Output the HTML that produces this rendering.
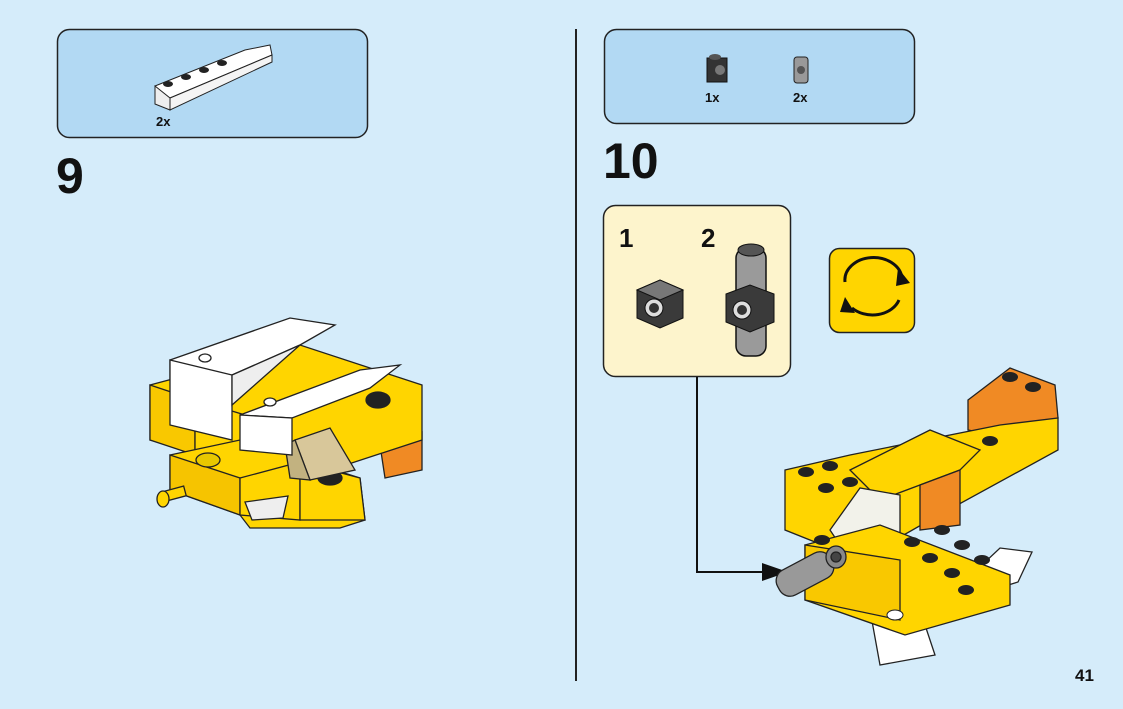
<!DOCTYPE html>
<html><head><style>
html,body{margin:0;padding:0}
body{width:1123px;height:709px;background:#d5ecfa;overflow:hidden;position:relative;font-family:"Liberation Sans",Arial,sans-serif}
svg{position:absolute;left:0;top:0}
</style></head><body>
<svg width="1123" height="709" viewBox="0 0 1123 709" xmlns="http://www.w3.org/2000/svg" font-family="Liberation Sans, Arial, sans-serif">
<rect width="1123" height="709" fill="#d5ecfa"/>
<rect x="57.5" y="29.5" width="310" height="108" rx="12" fill="#b2d9f3" stroke="#222" stroke-width="1.5"/>
<rect x="604.5" y="29.5" width="310" height="94" rx="12" fill="#b2d9f3" stroke="#222" stroke-width="1.5"/>
<polygon points="155,86 245,50 270,45 272,55 170,98 155,98" fill="#fff" stroke="#222"/>
<polygon points="155,86 170,98 170,110 155,104" fill="#eee" stroke="#222"/>
<polygon points="170,98 272,55 272,62 170,110" fill="#f4f4f4" stroke="#222"/>
<g fill="#222"><ellipse cx="168" cy="84" rx="5" ry="3"/><ellipse cx="186" cy="77" rx="5" ry="3"/><ellipse cx="204" cy="70" rx="5" ry="3"/><ellipse cx="222" cy="63" rx="5" ry="3"/></g>
<text x="156" y="126" font-size="13" font-weight="bold" fill="#111">2x</text>
<rect x="707" y="58" width="20" height="24" fill="#333" stroke="#111"/><circle cx="720" cy="70" r="5" fill="#777"/><ellipse cx="715" cy="57" rx="6" ry="3" fill="#555"/>
<text x="705" y="102" font-size="13" font-weight="bold" fill="#111">1x</text>
<rect x="794" y="57" width="14" height="26" rx="3" fill="#999" stroke="#222"/><circle cx="801" cy="70" r="4" fill="#555"/>
<text x="793" y="102" font-size="13" font-weight="bold" fill="#111">2x</text>
<text x="56" y="193" font-size="50" font-weight="bold" fill="#111">9</text>
<text x="603" y="178" font-size="50" font-weight="bold" fill="#111">10</text>
<line x1="576" y1="29" x2="576" y2="681" stroke="#222" stroke-width="2"/>
<rect x="603.5" y="205.5" width="187" height="171" rx="12" fill="#fdf4cc" stroke="#222" stroke-width="1.5"/>
<text x="619" y="247" font-size="26" font-weight="bold" fill="#111">1</text>
<text x="701" y="247" font-size="26" font-weight="bold" fill="#111">2</text>
<polygon points="637,290 660,280 683,290 683,318 660,328 637,318" fill="#3a3a3a" stroke="#111"/>
<polygon points="637,290 660,280 683,290 660,300" fill="#777" stroke="#111"/>
<circle cx="654" cy="308" r="9" fill="#ddd" stroke="#111"/><circle cx="654" cy="308" r="5" fill="#333"/>
<rect x="736" y="248" width="30" height="108" rx="10" fill="#9a9a9a" stroke="#111" stroke-width="1.5"/>
<ellipse cx="751" cy="250" rx="13" ry="6" fill="#555" stroke="#111"/>
<polygon points="726,294 750,285 774,294 774,322 750,332 726,322" fill="#3a3a3a" stroke="#111"/>
<circle cx="742" cy="310" r="9" fill="#ddd" stroke="#111"/><circle cx="742" cy="310" r="5" fill="#333"/>
<rect x="829.5" y="248.5" width="85" height="84" rx="10" fill="#ffd500" stroke="#222" stroke-width="1.5"/>
<path d="M845 282 A28 22 0 0 1 902 278" fill="none" stroke="#111" stroke-width="3"/>
<polygon points="898,268 910,283 896,286" fill="#111"/>
<path d="M899 300 A28 22 0 0 1 852 308" fill="none" stroke="#111" stroke-width="3"/>
<polygon points="845,297 855,313 840,312" fill="#111"/>
<polyline points="697,377 697,572 770,572" fill="none" stroke="#111" stroke-width="2"/>
<polygon points="762,563 788,572 762,581" fill="#111"/>
<!-- model 9 -->
<g stroke="#222" stroke-width="1.3">
<polygon points="380,445 422,432 422,470 385,478" fill="#f08a24"/>
<polygon points="150,385 300,345 422,385 422,440 300,480 150,440" fill="#ffd500"/>
<polygon points="150,385 195,400 195,455 150,440" fill="#f9c800"/>
<polygon points="195,400 262,420 262,465 195,455" fill="#ffd500"/>
<polygon points="170,455 240,440 360,478 365,520 340,528 250,528 240,515 170,490" fill="#ffd500"/>
<polygon points="170,455 240,478 240,515 170,490" fill="#f6c400"/>
<polygon points="240,478 300,462 300,520 240,515" fill="#ffd500"/>
<polygon points="300,462 360,478 365,520 300,520" fill="#ffd500"/>
<polygon points="245,502 288,496 283,518 252,520" fill="#eee"/>
<ellipse cx="378" cy="400" rx="12" ry="8" fill="#222"/>
<ellipse cx="208" cy="460" rx="12" ry="7" fill="#e8c800"/>
<ellipse cx="330" cy="478" rx="12" ry="7" fill="#222"/>
<polygon points="295,440 330,428 355,470 310,480" fill="#d8c79a"/>
<polygon points="285,445 295,440 310,480 290,478" fill="#c2b280"/>
<rect x="162" y="490" width="24" height="10" fill="#ffd500" transform="rotate(-15 170 497)"/>
<ellipse cx="163" cy="499" rx="6" ry="8" fill="#ffd500"/>
<polygon points="170,360 290,318 335,325 300,345 232,375 170,380" fill="#fff"/>
<polygon points="170,360 232,375 232,440 170,425" fill="#fff"/>
<polygon points="232,375 300,345 232,405" fill="#eee"/>
<polygon points="240,415 360,370 400,365 370,388 292,418 240,415" fill="#fff"/>
<polygon points="240,415 292,418 292,455 240,450" fill="#fff"/>
<ellipse cx="205" cy="358" rx="6" ry="4" fill="#fff"/>
<ellipse cx="270" cy="402" rx="6" ry="4" fill="#fff"/>
</g>
<!-- model 10 -->
<g stroke="#222" stroke-width="1.3">
<polygon points="968,400 1010,368 1055,385 1058,418 1020,440 968,430" fill="#f08a24"/>
<polygon points="785,470 850,455 1000,425 1058,418 1058,450 930,520 860,560 785,530" fill="#ffd500"/>
<polygon points="850,470 930,430 980,450 960,470 880,500" fill="#ffd500"/>
<polygon points="920,485 960,470 960,525 920,530" fill="#f08a24"/>
<polygon points="830,530 860,488 900,495 900,540 840,545" fill="#f2f2ea"/>
<polygon points="950,595 1000,548 1032,552 1018,582 960,600" fill="#fff"/>
<polygon points="870,610 920,610 935,655 880,665" fill="#fff"/>
<polygon points="805,545 880,525 1010,575 1010,605 905,635 805,600" fill="#ffd500"/>
<polygon points="805,545 900,560 900,620 805,600" fill="#f9c800"/>
<rect x="775" y="560" width="60" height="28" rx="12" fill="#999" transform="rotate(-28 805 574)"/>
<ellipse cx="836" cy="557" rx="10" ry="11" fill="#888"/><circle cx="836" cy="557" r="5" fill="#444"/>
</g>
<g fill="#222">
<ellipse cx="806" cy="472" rx="8" ry="5"/><ellipse cx="830" cy="466" rx="8" ry="5"/><ellipse cx="826" cy="488" rx="8" ry="5"/><ellipse cx="850" cy="482" rx="8" ry="5"/>
<ellipse cx="1010" cy="377" rx="8" ry="5"/><ellipse cx="1033" cy="387" rx="8" ry="5"/><ellipse cx="990" cy="441" rx="8" ry="5"/>
<ellipse cx="912" cy="542" rx="8" ry="5"/><ellipse cx="942" cy="530" rx="8" ry="5"/><ellipse cx="930" cy="558" rx="8" ry="5"/><ellipse cx="962" cy="545" rx="8" ry="5"/><ellipse cx="952" cy="573" rx="8" ry="5"/><ellipse cx="982" cy="560" rx="8" ry="5"/><ellipse cx="966" cy="590" rx="8" ry="5"/><ellipse cx="822" cy="540" rx="8" ry="5"/>
</g>
<ellipse cx="895" cy="615" rx="8" ry="5" fill="#fff" stroke="#222"/>
<text x="1075" y="681" font-size="17" font-weight="bold" fill="#111">41</text>
</svg>
</body></html>
